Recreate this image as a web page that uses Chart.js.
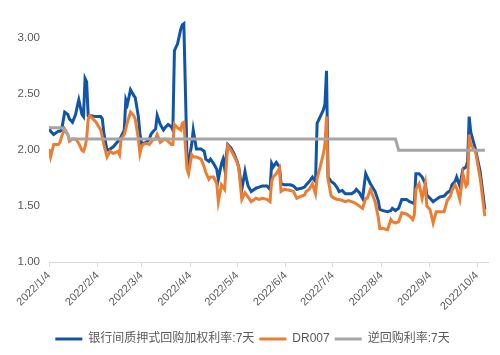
<!DOCTYPE html>
<html><head><meta charset="utf-8">
<script src="https://cdn.jsdelivr.net/npm/chart.js@4/dist/chart.umd.min.js"></script>
<style>html,body{margin:0;padding:0;background:#fff;}#wrap{width:500px;height:355px;}</style>
</head><body><div id="wrap"><canvas id="c" width="500" height="355"></canvas></div>
<script>
const dates = ['2022-01-04','2022-01-05','2022-01-07','2022-01-10','2022-01-11','2022-01-12','2022-01-14','2022-01-16','2022-01-17','2022-01-19','2022-01-21','2022-01-22','2022-01-23','2022-01-25','2022-01-26','2022-01-27','2022-01-28','2022-01-29','2022-01-30',
'2022-02-03','2022-02-06','2022-02-07','2022-02-08','2022-02-10','2022-02-12','2022-02-14','2022-02-17','2022-02-18','2022-02-19','2022-02-21','2022-02-22','2022-02-23','2022-02-25','2022-02-27','2022-02-28',
'2022-03-02','2022-03-03','2022-03-04','2022-03-05','2022-03-07','2022-03-09','2022-03-10','2022-03-11','2022-03-13','2022-03-14','2022-03-16','2022-03-18','2022-03-19','2022-03-21','2022-03-23','2022-03-24','2022-03-25','2022-03-27','2022-03-29','2022-03-30','2022-03-31',
'2022-04-02','2022-04-03','2022-04-05','2022-04-06','2022-04-08','2022-04-11','2022-04-13','2022-04-14','2022-04-16','2022-04-17','2022-04-19','2022-04-21','2022-04-22','2022-04-24','2022-04-25','2022-04-26','2022-04-28','2022-04-30',
'2022-05-02','2022-05-04','2022-05-05','2022-05-07','2022-05-09','2022-05-10','2022-05-11','2022-05-13','2022-05-16','2022-05-18','2022-05-20','2022-05-23','2022-05-25','2022-05-26','2022-05-27','2022-05-29','2022-05-31',
'2022-06-01','2022-06-03','2022-06-07','2022-06-09','2022-06-11','2022-06-14','2022-06-16','2022-06-17','2022-06-19','2022-06-21','2022-06-23','2022-06-24','2022-06-26','2022-06-28','2022-06-29','2022-06-30',
'2022-07-01','2022-07-03','2022-07-05','2022-07-07','2022-07-08','2022-07-10','2022-07-12','2022-07-14','2022-07-16','2022-07-18','2022-07-19','2022-07-21','2022-07-23','2022-07-25','2022-07-26','2022-07-28','2022-07-31',
'2022-08-02','2022-08-03','2022-08-05','2022-08-08','2022-08-10','2022-08-11','2022-08-13','2022-08-15','2022-08-17','2022-08-20','2022-08-22','2022-08-24','2022-08-25','2022-08-26','2022-08-28','2022-08-30',
'2022-09-01','2022-09-02','2022-09-04','2022-09-06','2022-09-08','2022-09-10','2022-09-13','2022-09-15','2022-09-17','2022-09-18','2022-09-20','2022-09-21','2022-09-23','2022-09-25','2022-09-26','2022-09-27','2022-09-28','2022-09-29','2022-09-30',
'2022-10-03','2022-10-06','2022-10-09'];

const pledgedRepo7d = [2.21,2.17,2.14,2.17,2.17,2.18,2.34,2.32,2.28,2.25,2.32,2.39,2.45,2.32,2.30,2.64,2.61,2.31,2.31,
2.30,2.30,2.28,2.15,2.00,2.01,2.03,2.08,2.10,2.12,2.18,2.45,2.41,2.54,2.49,2.47,
2.30,2.15,2.06,2.06,2.07,2.10,2.14,2.16,2.19,2.31,2.23,2.18,2.20,2.23,2.21,2.18,2.89,2.95,3.08,3.12,3.13,
1.95,1.88,2.05,2.18,2.01,2.01,1.99,1.92,1.90,1.92,1.88,1.83,1.74,1.88,1.92,1.84,2.05,2.02,
1.97,1.90,1.85,1.65,1.81,1.74,1.68,1.63,1.66,1.67,1.68,1.68,1.65,1.88,1.85,1.89,1.85,
1.70,1.69,1.69,1.68,1.65,1.66,1.67,1.69,1.72,1.76,1.72,2.24,2.30,2.36,2.41,2.71,
1.76,1.72,1.70,1.66,1.63,1.64,1.61,1.61,1.61,1.63,1.65,1.62,1.57,1.79,1.76,1.70,1.63,
1.55,1.47,1.46,1.45,1.46,1.48,1.46,1.48,1.56,1.56,1.54,1.53,1.52,1.79,1.79,1.76,
1.70,1.60,1.57,1.54,1.56,1.58,1.59,1.62,1.64,1.69,1.72,1.76,1.68,1.83,1.84,1.85,1.90,2.30,2.16,
2.01,1.81,1.47];

const dr007 = [2.01,1.94,2.05,2.05,2.07,2.12,2.19,2.14,2.08,2.10,2.10,2.08,2.06,2.00,1.99,2.03,2.10,2.28,2.31,
2.25,2.18,2.12,2.05,1.94,1.99,1.97,1.99,1.96,2.10,2.14,2.19,2.25,2.34,2.31,2.28,
2.10,1.97,2.03,2.05,2.06,2.05,2.07,2.09,2.10,2.14,2.07,2.09,2.10,2.08,2.05,2.05,2.23,2.20,2.18,2.24,2.25,
1.83,1.79,1.96,1.94,1.94,1.92,1.85,1.80,1.74,1.76,1.76,1.70,1.54,1.69,1.67,1.65,2.04,2.00,
1.95,1.89,1.84,1.56,1.62,1.60,1.58,1.54,1.57,1.56,1.57,1.56,1.54,1.72,1.76,1.79,1.84,
1.63,1.65,1.64,1.63,1.57,1.59,1.60,1.63,1.65,1.70,1.61,1.75,1.85,1.97,2.05,2.30,
1.74,1.59,1.57,1.56,1.56,1.55,1.54,1.55,1.54,1.53,1.52,1.50,1.48,1.57,1.57,1.65,1.54,
1.40,1.30,1.30,1.29,1.38,1.36,1.35,1.36,1.44,1.43,1.41,1.38,1.42,1.65,1.70,1.57,
1.70,1.50,1.47,1.35,1.45,1.45,1.45,1.55,1.59,1.64,1.69,1.66,1.56,1.79,1.73,1.68,1.70,2.14,2.05,
1.99,1.75,1.41];

const repoDates = ['2022-01-04','2022-01-12','2022-01-14','2022-01-16','2022-01-17','2022-08-13','2022-08-15','2022-10-09'];
const repoRate7d = [2.20,2.20,2.18,2.14,2.10,2.10,2.00,2.00];

const tickDates = ['2022-01-04','2022-02-04','2022-03-04','2022-04-04','2022-05-04','2022-06-04','2022-07-04','2022-08-04','2022-09-04','2022-10-04'];
const tickLabels = ['2022/1/4','2022/2/4','2022/3/4','2022/4/4','2022/5/4','2022/6/4','2022/7/4','2022/8/4','2022/9/4','2022/10/4'];
const yTicks = [1.00,1.50,2.00,2.50,3.00];

const seriesNames = ['银行间质押式回购加权利率:7天','DR007','逆回购利率:7天'];

const base = Date.UTC(2022,0,4);
function dayOf(s){const p=s.split('-');return Math.round((Date.UTC(+p[0],+p[1]-1,+p[2])-base)/86400000);}
const toXY = (ds, vs) => ds.map((d,i)=>({x:dayOf(d), y:vs[i]}));
const tickDays = tickDates.map(dayOf);

const FONT = "'Liberation Sans', 'Noto Sans CJK SC', sans-serif";

new Chart(document.getElementById('c'), {
  type: 'line',
  data: {
    datasets: [
      {label: seriesNames[0], data: toXY(dates, pledgedRepo7d), borderColor:'#1055a8', backgroundColor:'#1055a8', borderWidth:3, pointRadius:0, tension:0, order:3},
      {label: seriesNames[1], data: toXY(dates, dr007), borderColor:'#ed7d31', backgroundColor:'#ed7d31', borderWidth:3, pointRadius:0, tension:0, order:2},
      {label: seriesNames[2], data: toXY(repoDates, repoRate7d), borderColor:'#a5a5a5', backgroundColor:'#a5a5a5', borderWidth:3, pointRadius:0, tension:0, order:1}
    ]
  },
  options: {
    responsive:false, animation:false, devicePixelRatio:1,
    layout:{padding:{left:17,right:12,top:10,bottom:0}},
    plugins:{
      tooltip:{enabled:false},
      legend:{position:'bottom', labels:{
        font:{size:12, family:FONT}, color:'#595959', boxWidth:27, boxHeight:3, padding:5,
        sort:(a,b)=>a.datasetIndex-b.datasetIndex,
        generateLabels(chart){
          const items = Chart.defaults.plugins.legend.labels.generateLabels(chart);
          items.forEach(it=>{it.lineWidth=0; it.fillStyle=it.strokeStyle;});
          return items;
        }
      }}
    },
    scales:{
      x:{type:'linear', min:0, max:280,
        afterBuildTicks(s){s.ticks = tickDays.map(v=>({value:v}));},
        afterFit(s){s.paddingLeft=0; s.paddingRight=0; s.height += 13;},
        ticks:{autoSkip:false, maxRotation:45, minRotation:45, font:{size:11, family:FONT}, color:'#595959', padding:2,
          callback(v){const i=tickDays.indexOf(v); return i>=0?tickLabels[i]:'';}},
        grid:{drawOnChartArea:false, drawTicks:true, tickLength:5, color:'#d9d9d9'},
        border:{display:true, color:'#d9d9d9', width:1}
      },
      y:{min:1, max:3.2,
        afterBuildTicks(s){s.ticks = yTicks.map(v=>({value:v}));},
        afterFit(s){s.width = 32;},
        ticks:{font:{size:11.5, family:FONT}, color:'#595959', padding:9, callback:v=>Number(v).toFixed(2)},
        grid:{display:false, drawTicks:false, tickLength:0}, border:{display:false}
      }
    }
  }
});
</script></body></html>
